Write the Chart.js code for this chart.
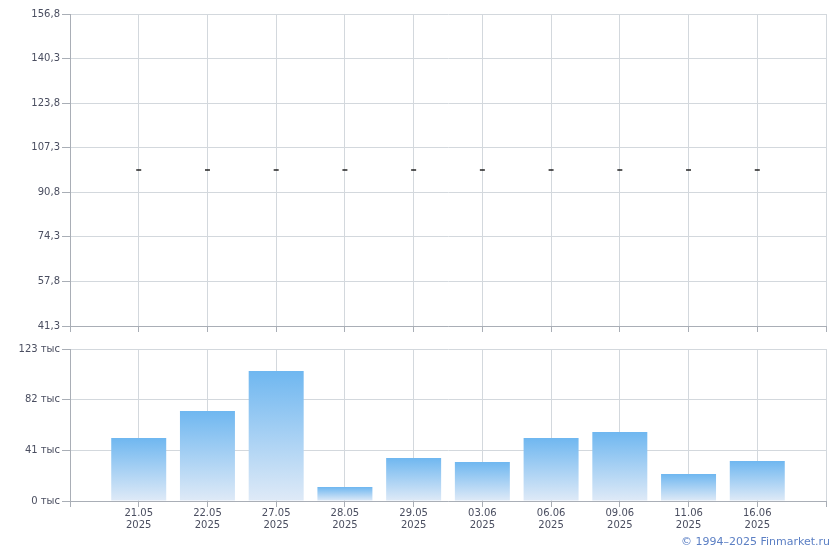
<!DOCTYPE html>
<html>
<head>
<meta charset="utf-8">
<script src="https://cdn.jsdelivr.net/npm/chart.js@4/dist/chart.umd.min.js"></script>
<style>
  body { margin: 0; background: #fff; }
  #wrap { position: relative; width: 840px; height: 550px; }
  #priceBox { position: absolute; left: 0; top: 0; width: 840px; height: 340px; }
  #volBox { position: absolute; left: 0; top: 335px; width: 840px; height: 215px; }
  #copy {
    position: absolute; right: 10px; top: 535px;
    font: 11px "DejaVu Sans", Verdana, sans-serif; color: #5b7fc4;
  }
</style>
</head>
<body>
<div id="wrap">
  <div id="priceBox"><canvas id="chart-price"></canvas></div>
  <div id="volBox"><canvas id="chart-volume"></canvas></div>
  <div id="copy">© 1994–2025 Finmarket.ru</div>
</div>
<script>
// даты торгов
const dates = ["21.05", "22.05", "27.05", "28.05", "29.05", "03.06", "06.06", "09.06", "11.06", "16.06"];
const years = ["2025", "2025", "2025", "2025", "2025", "2025", "2025", "2025", "2025", "2025"];
// цена (все точки на одном уровне)
const prices = [99.05, 99.05, 99.05, 99.05, 99.05, 99.05, 99.05, 99.05, 99.05, 99.05];
// объём, тыс
const volumes = [51.0, 72.8, 105.2, 11.3, 34.8, 31.6, 51.0, 55.8, 21.8, 32.4];
const priceTicks = [41.3, 57.8, 74.3, 90.8, 107.3, 123.8, 140.3, 156.8];
const volumeTicks = [0, 41, 82, 123];

const gridColor = "#d3d8dd";
const axisColor = "#a9aeb6";
const labelColor = "#4a4e60";
const fontSpec = { family: "'DejaVu Sans', Verdana, sans-serif", size: 10 };

function xScale(showLabels, height) {
  return {
    type: "linear",
    min: 0,
    max: dates.length + 1,
    offset: false,
    afterBuildTicks: scale => {
      let t = [];
      for (let i = 0; i <= dates.length + 1; i++) t.push({ value: i });
      scale.ticks = t;
    },
    afterFit: scale => { scale.height = height; },
    grid: { color: gridColor, tickColor: axisColor, tickLength: 6, drawTicks: true, offset: false },
    border: { color: axisColor },
    ticks: {
      color: labelColor,
      font: fontSpec,
      padding: 0,
      autoSkip: false,
      maxRotation: 0,
      callback: v => {
        if (!showLabels || v < 1 || v > dates.length) return "";
        return [dates[v - 1], years[v - 1]];
      }
    }
  };
}

function yScale(ticksArr, fmt) {
  return {
    min: ticksArr[0],
    max: ticksArr[ticksArr.length - 1],
    afterBuildTicks: scale => { scale.ticks = ticksArr.map(v => ({ value: v })); },
    afterFit: scale => { scale.width = 70; },
    grid: { color: gridColor, tickColor: axisColor, tickLength: 8 },
    border: { color: axisColor },
    ticks: { color: labelColor, font: fontSpec, padding: 2, callback: fmt }
  };
}

new Chart(document.getElementById("chart-price").getContext("2d"), {
  type: "scatter",
  data: {
    datasets: [{
      data: prices.map((p, i) => ({ x: i + 1, y: p })),
      pointStyle: "line",
      pointRadius: 2.5,
      pointBorderWidth: 1.3,
      pointBorderColor: "#000",
      borderColor: "#000",
      backgroundColor: "#000"
    }]
  },
  options: {
    responsive: true,
    maintainAspectRatio: false,
    animation: false,
    layout: { padding: { top: 14, right: 14, left: 0, bottom: 0 } },
    plugins: { legend: { display: false }, tooltip: { enabled: false } },
    scales: {
      x: xScale(false, 14),
      y: yScale(priceTicks, v => v.toFixed(1).replace(".", ","))
    }
  }
});

const volCtx = document.getElementById("chart-volume").getContext("2d");

// градиент для каждого столбика: от его вершины до нуля
function barGradient(context) {
  const chart = context.chart;
  const area = chart.chartArea;
  if (!area || !context.parsed) return "#8ec5f2";
  const yS = chart.scales.y;
  const top = yS.getPixelForValue(context.parsed.y);
  const bottom = yS.getPixelForValue(0);
  const g = chart.ctx.createLinearGradient(0, bottom, 0, top);
  g.addColorStop(0, "#dfeaf7");
  g.addColorStop(1, "#6fb7f0");
  return g;
}

new Chart(volCtx, {
  type: "bar",
  data: {
    datasets: [{
      data: volumes.map((v, i) => ({ x: i + 1, y: v })),
      backgroundColor: barGradient,
      borderWidth: 0,
      barPercentage: 0.8,
      categoryPercentage: 1
    }]
  },
  options: {
    responsive: true,
    maintainAspectRatio: false,
    animation: false,
    layout: { padding: { top: 14, right: 14, left: 0, bottom: 0 } },
    plugins: { legend: { display: false }, tooltip: { enabled: false } },
    scales: {
      x: xScale(true, 49),
      y: yScale(volumeTicks, v => v + " тыс")
    }
  }
});
</script>
</body>
</html>
